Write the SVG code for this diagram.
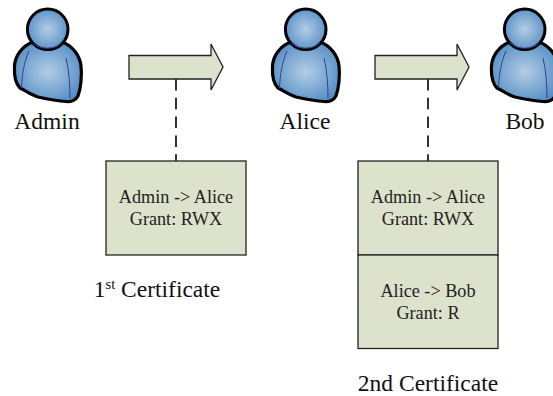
<svg xmlns="http://www.w3.org/2000/svg" xmlns:xlink="http://www.w3.org/1999/xlink" width="553" height="396" viewBox="0 0 553 396">
<style>
text{font-family:"Liberation Serif","Times New Roman",serif;fill:#111;text-anchor:middle}
.lg{font-size:23.500px}
.sm{font-size:18.200px;fill:#222}
.box{fill:#dde2cc;stroke:#222;stroke-width:1.3}
.arrow{fill:#dde2cc;stroke:#222;stroke-width:1.3}
.dash{fill:none;stroke:#111;stroke-width:1.7;stroke-dasharray:11.500 7.300}
</style>
<defs>
<radialGradient id="g" cx="0.5" cy="0.5" r="0.62">
<stop offset="0" stop-color="#b4cde4"/><stop offset="1" stop-color="#4a88c4"/>
</radialGradient>
<symbol id="person" overflow="visible" width="100" height="110">
<path d="M33 42C22 46 15 56 14.500 66C14 75 16 84 20 88C26 91 31 95 38 97C47 99 58 101 66 101.500C71 102 76 100 78 96C81 88 82 75 81 66C80 56 73 46 62 42C55 48 40 48 33 42Z" fill="url(#g)" stroke="#000" stroke-width="3.200" stroke-linejoin="round"/>
<path d="M29 51C24 62 22 75 21.500 88M66 58C69 70 70 85 70 98" fill="none" stroke="#3c3f86" stroke-width="1"/>
<circle cx="47.700" cy="29.300" r="20.300" fill="url(#g)" stroke="#000" stroke-width="3"/>
<path d="M33 43C40 50 55 50 62 43" fill="none" stroke="#3c3f86" stroke-width="1"/>
</symbol>
</defs>
<g id="connectors">
<path class="dash" d="M176 79V161"/>
<path class="dash" d="M428 79V161"/>
</g>
<g id="admin"><use xlink:href="#person" href="#person" x="0" y="0"/><text class="lg" x="47" y="128.500">Admin</text></g>
<g id="alice"><use xlink:href="#person" href="#person" x="258" y="0"/><text class="lg" x="305" y="128.500">Alice</text></g>
<g id="bob"><use xlink:href="#person" href="#person" x="477" y="0"/><text class="lg" x="525" y="128.500">Bob</text></g>
<g id="arrow1"><path class="arrow" d="M129 55.500H211V44L223 67L211 90V79H129Z"/></g>
<g id="arrow2"><path class="arrow" d="M375 55.500H457V44L469 67L457 90V79H375Z"/></g>
<g id="cert1">
<rect class="box" x="106" y="161" width="140" height="94"/>
<text class="sm" x="176" y="203">Admin -&gt; Alice</text>
<text class="sm" x="176" y="225">Grant: RWX</text>
<text class="lg" x="157" y="297">1<tspan font-size="14.500" dy="-8">st</tspan><tspan dy="8"> Certificate</tspan></text>
</g>
<g id="cert2">
<rect class="box" x="358" y="161" width="140" height="94"/>
<rect class="box" x="358" y="255" width="140" height="93.500"/>
<text class="sm" x="428" y="203">Admin -&gt; Alice</text>
<text class="sm" x="428" y="225">Grant: RWX</text>
<text class="sm" x="428" y="297">Alice -&gt; Bob</text>
<text class="sm" x="428" y="319">Grant: R</text>
<text class="lg" x="428" y="391">2nd Certificate</text>
</g>
</svg>
